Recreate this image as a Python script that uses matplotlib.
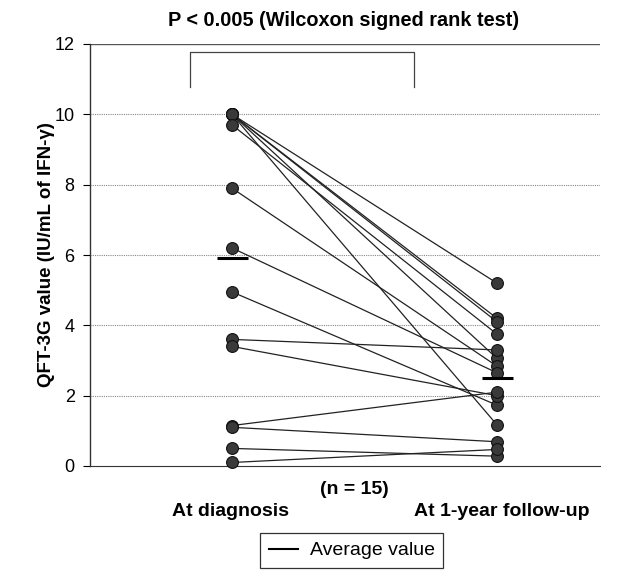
import numpy as np
import matplotlib
matplotlib.use("Agg")
import matplotlib.pyplot as plt
from matplotlib.lines import Line2D

plt.rcParams['font.family'] = ['Liberation Sans', 'DejaVu Sans']

# paired QFT-3G values, one entry per patient (n = 15)
at_diagnosis = [10.0, 10.0, 10.0, 10.0, 10.0, 9.7, 7.9, 6.2, 4.95, 3.6, 3.4, 1.15, 1.1, 0.5, 0.1]
at_followup = [5.2, 4.2, 4.1, 3.06, 1.17, 3.75, 2.84, 2.65, 1.73, 3.3, 2.0, 2.1, 0.69, 0.28, 0.47]
groups = ['At diagnosis', 'At 1-year follow-up']
yticks = [0, 2, 4, 6, 8, 10, 12]

fig = plt.figure(figsize=(6.27, 5.71), dpi=100)
ax = fig.add_axes([90/627, 1-466/571, 510/627, 422/571])

# connecting lines
for a, b in zip(at_diagnosis, at_followup):
    ax.plot([0, 1], [a, b], color='#222222', lw=0.9, zorder=2)

ax.plot(np.zeros(len(at_diagnosis)), at_diagnosis, 'o', ms=8.5, mfc='#3a3a3a',
        mec='#111111', mew=0.8, zorder=3, clip_on=False)
ax.plot(np.ones(len(at_followup)), at_followup, 'o', ms=8.5, mfc='#3a3a3a',
        mec='#111111', mew=0.8, zorder=3, clip_on=False)

# average bars
for x, vals in zip([0, 1], [at_diagnosis, at_followup]):
    m = np.mean(vals)
    ax.plot([x-0.058, x+0.062], [m, m], color='black', lw=2.2, zorder=4,
            solid_capstyle='butt')

ax.set_xlim(-0.536, 1.389)
ax.set_ylim(0, 12)
ax.set_yticks(yticks)
ax.set_yticklabels([str(t) for t in yticks], fontsize=13)
ax.set_xticks([])
for t in yticks[1:-1]:
    ax.axhline(t, color='#888888', lw=0.8, ls=(0, (1, 1)), zorder=1)
ax.axhline(12, color='#555555', lw=1.0, zorder=1)

for s in ['top', 'right']:
    ax.spines[s].set_visible(False)
ax.spines['left'].set_color('#333333')
ax.spines['bottom'].set_color('#333333')
ax.spines['left'].set_linewidth(1.0)
ax.tick_params(axis='y', length=5, width=0.8, pad=6)

ax.set_ylabel('QFT-3G value (IU/mL of IFN-γ)', fontsize=13.5, fontweight='bold')
ax.yaxis.set_label_coords(-35/510, 0.5)

# significance bracket
ax.plot([-0.158, -0.158, 0.687, 0.687], [10.78, 11.77, 11.77, 10.78],
        color='#444444', lw=0.9, clip_on=False)

fig.text(344/627, 1-20/571, 'P < 0.005 (Wilcoxon signed rank test)', ha='center',
         va='center', fontsize=14.3, fontweight='bold')
fig.text(354/627, 1-490/571, '(n = 15)', ha='center', va='center', fontsize=14,
         fontweight='bold')
for x, g in zip([230, 502], groups):
    fig.text(x/627, 1-512/571, g, ha='center', va='center', fontsize=14,
             fontweight='bold')

handle = Line2D([], [], color='black', lw=1.5)
leg = fig.legend([handle], ['Average value'], loc='upper left',
                 bbox_to_anchor=(260/627, 1-533/571), fontsize=14,
                 frameon=True, fancybox=False, handlelength=1.5,
                 borderpad=0.45, handletextpad=0.6, borderaxespad=0)
leg.get_frame().set_edgecolor('black')
leg.get_frame().set_linewidth(0.9)

fig.savefig('out.png', dpi=100)
